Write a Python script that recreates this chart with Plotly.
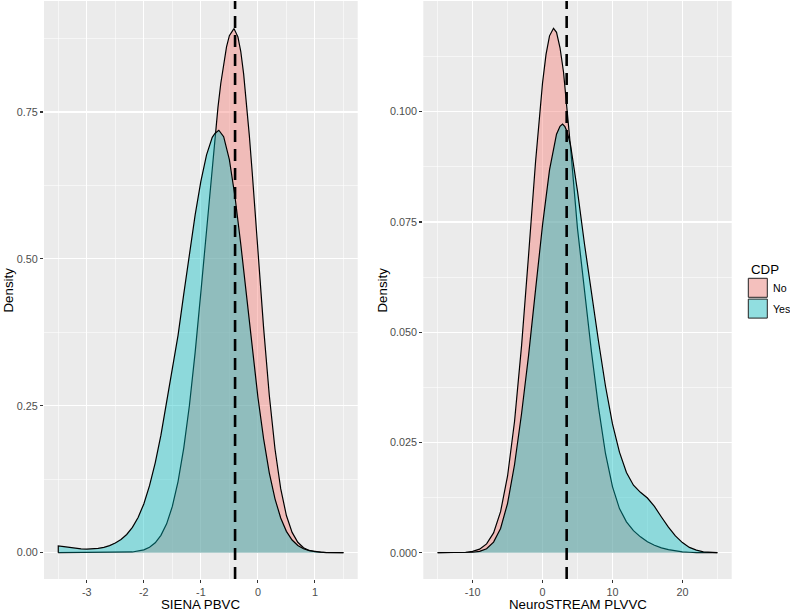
import plotly.graph_objects as go

# ---------------- data ----------------
# Left panel: SIENA PBVC densities
siena_no_x = [-3.5, -2.6, -2.4, -2.2, -2.0, -1.9, -1.8, -1.7, -1.6, -1.5, -1.4, -1.3, -1.2, -1.1,
              -1.0, -0.9, -0.8, -0.7, -0.65, -0.6, -0.55, -0.5, -0.45, -0.42, -0.35, -0.3, -0.25,
              -0.2, -0.15, -0.1, 0.0, 0.1, 0.2, 0.3, 0.4, 0.5, 0.6, 0.7, 0.8, 0.9, 1.0, 1.1, 1.2, 1.5]
siena_no_y = [0.0, 0.0001, 0.0003, 0.0012, 0.0049, 0.0093, 0.0168, 0.0295, 0.049, 0.0787, 0.121,
              0.178, 0.251, 0.341, 0.443, 0.552, 0.660, 0.758, 0.799, 0.834, 0.861, 0.880, 0.889,
              0.892, 0.878, 0.853, 0.815, 0.767, 0.710, 0.648, 0.514, 0.383, 0.268, 0.1765, 0.109,
              0.0632, 0.0345, 0.0177, 0.0085, 0.0038, 0.0016, 0.0006, 0.0002, 0.0]

siena_yes_x = [-3.5, -3.4, -3.3, -3.2, -3.1, -3.0, -2.9, -2.8, -2.7, -2.6, -2.5, -2.4, -2.3, -2.2,
               -2.1, -2.0, -1.9, -1.8, -1.7, -1.6, -1.5, -1.4, -1.3, -1.2, -1.1, -1.0, -0.9, -0.8,
               -0.75, -0.685, -0.6, -0.5, -0.4, -0.3, -0.2, -0.1, 0.0, 0.1, 0.2, 0.3, 0.4, 0.5, 0.6,
               0.7, 0.8, 0.9, 1.0, 1.1, 1.2, 1.3, 1.5]
siena_yes_y = [0.0114, 0.0102, 0.0088, 0.0074, 0.0064, 0.0060, 0.0063, 0.0072, 0.009, 0.012, 0.0165,
               0.0225, 0.031, 0.043, 0.060, 0.083, 0.114, 0.153, 0.200, 0.255, 0.310, 0.370, 0.440,
               0.509, 0.575, 0.632, 0.677, 0.707, 0.714, 0.719, 0.708, 0.669, 0.605, 0.525, 0.436,
               0.347, 0.265, 0.194, 0.136, 0.0917, 0.059, 0.0363, 0.0215, 0.0122, 0.0066, 0.0034,
               0.0017, 0.0008, 0.0003, 0.0001, 0.0]

# Right panel: NeuroSTREAM PLVVC densities
neuro_no_x = [-15, -11, -10, -9, -8, -7, -6, -5, -4, -3, -2, -1, 0, 0.5, 1, 1.57, 2, 2.5, 3, 3.5,
              4, 5, 6, 7, 8, 9, 10, 11, 12, 13, 14, 15, 16, 17, 18, 19, 20, 21, 22, 25]
neuro_no_y = [0.0, 0.0001, 0.0003, 0.0008, 0.0020, 0.0045, 0.0093, 0.0174, 0.0298, 0.0469, 0.0674,
              0.0886, 0.1065, 0.1130, 0.1172, 0.1189, 0.1180, 0.1145, 0.1090, 0.1012, 0.0920,
              0.0735, 0.0595, 0.0455, 0.0330, 0.0225, 0.0150, 0.0100, 0.0070, 0.0050, 0.0036,
              0.0025, 0.0017, 0.0011, 0.0007, 0.0004, 0.0002, 0.0001, 0.0, 0.0]

neuro_yes_x = [-15, -11, -10, -9, -8, -7, -6, -5, -4, -3, -2, -1, 0, 1, 2, 2.5, 2.86, 3.2, 3.5, 4,
               5, 6, 7, 8, 9, 10, 11, 12, 13, 14, 15, 16, 17, 18, 19, 20, 21, 22, 23, 24, 25]
neuro_yes_y = [0.0, 0.0, 0.0001, 0.0003, 0.0009, 0.0024, 0.0055, 0.0112, 0.0200, 0.0315, 0.0447,
               0.0596, 0.0743, 0.0868, 0.0949, 0.0967, 0.0972, 0.0966, 0.0955, 0.0925, 0.0820,
               0.0700, 0.0585, 0.0480, 0.0378, 0.0292, 0.0228, 0.0182, 0.0153, 0.0137, 0.0124,
               0.0105, 0.0081, 0.0058, 0.0038, 0.0023, 0.0012, 0.0006, 0.0002, 0.0001, 0.0]

siena_cut = -0.4
neuro_cut = 3.45

groups = ["No", "Yes"]
legend_title = "CDP"
left_xlabel = "SIENA PBVC"
right_xlabel = "NeuroSTREAM PLVVC"
ylabel = "Density"

left_xticks = [-3, -2, -1, 0, 1]
left_xminor = [-3.5, -2.5, -1.5, -0.5, 0.5, 1.5]
left_yticks = [0.0, 0.25, 0.5, 0.75]
left_yticktext = ["0.00", "0.25", "0.50", "0.75"]
left_yminor = [0.125, 0.375, 0.625, 0.875]
right_xticks = [-10, 0, 10, 20]
right_xminor = [-15, -5, 5, 15, 25]
right_yticks = [0.0, 0.025, 0.05, 0.075, 0.1]
right_yticktext = ["0.000", "0.025", "0.050", "0.075", "0.100"]
right_yminor = [0.0125, 0.0375, 0.0625, 0.0875, 0.1125]

# ---------------- styling ----------------
W, H = 790, 611
FONT = "Liberation Sans, Arial, Helvetica, sans-serif"
fills = {"No": "rgba(248,118,109,0.4)", "Yes": "rgba(0,191,196,0.4)"}
key_fills = {"No": "rgb(244,192,189)", "Yes": "rgb(145,222,224)"}
BG = "#EBEBEB"


def polygon(xs, ys):
    return [xs[0]] + list(xs) + [xs[-1]], [0.0] + list(ys) + [0.0]


fig = go.Figure()
for (xs, ys, grp, xa, ya) in [
    (siena_no_x, siena_no_y, "No", "x", "y"),
    (siena_yes_x, siena_yes_y, "Yes", "x", "y"),
    (neuro_no_x, neuro_no_y, "No", "x2", "y2"),
    (neuro_yes_x, neuro_yes_y, "Yes", "x2", "y2"),
]:
    px, py = polygon(xs, ys)
    fig.add_trace(go.Scatter(x=px, y=py, mode="lines", fill="toself",
                             fillcolor=fills[grp], line=dict(color="black", width=1.2),
                             name=grp, showlegend=False, xaxis=xa, yaxis=ya,
                             hoverinfo="skip"))

ydom = [1 - 579 / H, 1 - 1 / H]
common_axis = dict(showline=False, zeroline=False, gridcolor="white", gridwidth=1.1,
                   ticks="outside", ticklen=3, tickwidth=1.1, tickcolor="#333333",
                   tickfont=dict(family=FONT, size=10.8, color="#4D4D4D"),
                   automargin=False, fixedrange=True)


def minor(vals):
    return dict(tickmode="array", tickvals=vals, showgrid=True, gridcolor="white",
                gridwidth=0.55, ticks="")


fig.update_layout(
    width=W, height=H,
    margin=dict(l=0, r=0, t=0, b=0),
    paper_bgcolor="white", plot_bgcolor=BG,
    showlegend=False,
    xaxis=dict(domain=[44 / W, 357.7 / W], range=[-3.75, 1.75], tickmode="array",
               tickvals=left_xticks, ticktext=[str(v) for v in left_xticks],
               minor=minor(left_xminor), anchor="y", **common_axis),
    yaxis=dict(domain=ydom, range=[-0.0448, 0.939], tickmode="array",
               tickvals=left_yticks, ticktext=left_yticktext,
               minor=minor(left_yminor), anchor="x", **common_axis),
    xaxis2=dict(domain=[423.3 / W, 731.7 / W], range=[-17.05, 27.05], tickmode="array",
                tickvals=right_xticks, ticktext=[str(v) for v in right_xticks],
                minor=minor(right_xminor), anchor="y2", **common_axis),
    yaxis2=dict(domain=ydom, range=[-0.00596, 0.1251], tickmode="array",
                tickvals=right_yticks, ticktext=right_yticktext,
                minor=minor(right_yminor), anchor="x2", **common_axis),
)

# dashed reference lines
for xv, xr, yr in [(siena_cut, "x", "y domain"), (neuro_cut, "x2", "y2 domain")]:
    fig.add_shape(type="line", x0=xv, x1=xv, y0=0, y1=1, xref=xr, yref=yr,
                  line=dict(color="black", width=2.6, dash="12px,7px"), layer="above")

title_font = dict(family=FONT, size=13.3, color="black")
annots = [
    dict(text=ylabel, x=7.5 / W, y=1 - 290 / H, textangle=-90),
    dict(text=ylabel, x=381.5 / W, y=1 - 290 / H, textangle=-90),
    dict(text=left_xlabel, x=200.9 / W, y=1 - 604 / H),
    dict(text=right_xlabel, x=577.5 / W, y=1 - 604 / H),
]
for a in annots:
    fig.add_annotation(xref="paper", yref="paper", xanchor="center", yanchor="middle",
                       showarrow=False, font=title_font, **a)

# legend (CDP)
fig.add_annotation(text=legend_title, xref="paper", yref="paper", x=749 / W, y=1 - 269 / H,
                   xanchor="left", yanchor="middle", showarrow=False, font=title_font)
for i, grp in enumerate(groups):
    top = 278.3 + i * 20.8
    fig.add_shape(type="rect", xref="paper", yref="paper",
                  x0=748.3 / W, x1=767.3 / W, y0=1 - (top + 19) / H, y1=1 - top / H,
                  fillcolor=key_fills[grp], line=dict(color="#222222", width=1))
    fig.add_annotation(text=grp, xref="paper", yref="paper", x=771 / W,
                       y=1 - (top + 9.8) / H, xanchor="left", yanchor="middle",
                       showarrow=False, font=dict(family=FONT, size=10.6, color="black"))

fig.write_html("out.html", config={"displayModeBar": False, "staticPlot": True},
               post_script="document.body.style.margin='0px';document.body.style.overflow='hidden';")
